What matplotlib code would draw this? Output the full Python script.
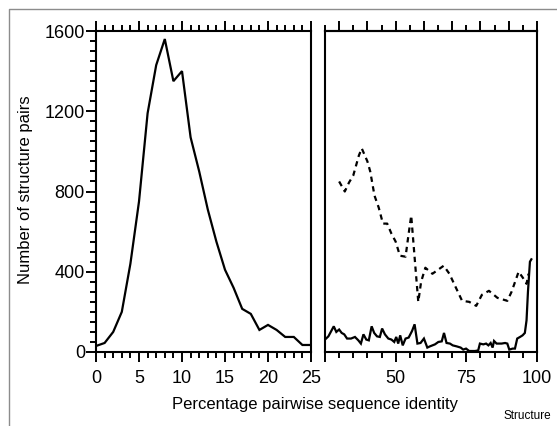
import matplotlib.pyplot as plt
from matplotlib.lines import Line2D
from matplotlib.ticker import MultipleLocator, FixedLocator, NullFormatter

plt.rcParams['font.family'] = ['Liberation Sans', 'DejaVu Sans']

# left panel: 0-25 % identity
low_x = [0, 1, 2, 3, 4, 5, 6, 7, 8, 9, 10, 11, 12, 13, 14, 15, 16, 17, 18, 19, 20,
         21, 22, 23, 24, 25]
low_y = [30, 45, 100, 200, 440, 750, 1190, 1430, 1560, 1350, 1400, 1070, 900, 710,
         550, 410, 320, 215, 190, 110, 135, 110, 75, 75, 35, 35]

# right panel, solid line
hi_x = [25, 26.2, 28.1, 29, 30, 30.9, 31.8, 32.8, 34.2, 35.6, 36.8, 37.7, 38.6, 39.6,
        40.5, 41.5, 42.4, 43.4, 44.4, 45.2, 46.2, 47.4, 48.5, 49.5, 50.2, 50.9, 51.6,
        52.5, 53.5, 54.6, 55.8, 56.7, 57.7, 58.8, 60, 61.2, 62.1, 63.9, 65.1, 66.3,
        67.1, 68, 69.2, 70.2, 71.6, 73, 73.9, 74.9, 76, 78.1, 79.2, 79.8, 81, 82,
        82.8, 83.6, 84.3, 84.8, 85.7, 86.7, 87.5, 88.7, 89.5, 90.2, 91.4, 92.2, 93,
        94, 94.9, 95.7, 96.3, 96.8, 97.5, 98]
hi_y = [62, 78, 128, 100, 112, 95, 88, 67, 67, 75, 58, 42, 88, 62,
        58, 128, 95, 78, 75, 117, 88, 67, 62, 50, 75, 42, 83,
        33, 67, 72, 105, 138, 42, 45, 67, 22, 28, 38, 50, 53,
        95, 45, 42, 33, 28, 22, 12, 17, 5, 5, 8, 42, 38, 42,
        33, 45, 22, 55, 42, 42, 42, 45, 42, 12, 17, 17, 67,
        75, 83, 95, 158, 300, 450, 462]

# right panel, dashed line
dash_x = [30, 32, 33.5, 35, 37, 38, 40, 41, 42.5, 44, 45.5, 47, 48.5, 50, 51.5, 53.5,
          54.5, 55.5, 57, 58, 59, 60.5, 63, 67, 69, 71, 73.5, 76, 78.5, 80.5, 83, 86,
          89.5, 91, 93.5, 95, 96.3, 97]
dash_y = [850, 800, 845, 880, 980, 1015, 950, 900, 780, 720, 640, 640, 590, 550, 480,
          475, 580, 680, 420, 250, 350, 420, 390, 430, 390, 330, 255, 250, 230, 285,
          305, 270, 255, 300, 400, 370, 340, 390]

W, H = 557, 426
fig = plt.figure(figsize=(W / 100, H / 100), dpi=100)

# grey frame around the figure (open at right and bottom)
fig.add_artist(Line2D([9 / W, 9 / W, 1], [0, 1 - 9 / H, 1 - 9 / H],
                      transform=fig.transFigure, color='#8c8c8c', lw=1))

bottom = 1 - 352 / H
height = (352 - 31) / H
ax1 = fig.add_axes([96 / W, bottom, 215 / W, height])
ax2 = fig.add_axes([325 / W, bottom, 212 / W, height])

lw = 1.5
maj = dict(which='major', direction='out', length=7, width=1.4)
mnr = dict(which='minor', direction='out', length=4, width=1.4)
for ax in (ax1, ax2):
    for sp in ax.spines.values():
        sp.set_linewidth(lw)
    ax.set_ylim(0, 1600)
    ax.tick_params(labelsize=13, pad=6, **maj)
    ax.tick_params(**mnr)

ax1.plot(low_x, low_y, color='black', lw=1.6, solid_joinstyle='miter')
ax1.set_xlim(0, 25)
ax1.xaxis.set_major_locator(MultipleLocator(5))
ax1.xaxis.set_minor_locator(MultipleLocator(1))
ax1.yaxis.set_major_locator(MultipleLocator(400))
ax1.yaxis.set_minor_locator(MultipleLocator(50))
ax1.tick_params(axis='x', which='both', top=True, labeltop=False)
ax1.tick_params(axis='y', which='major', pad=1)

ax2.plot(hi_x, hi_y, color='black', lw=1.6, solid_joinstyle='miter')
ax2.plot(dash_x, dash_y, color='black', lw=1.6, dashes=(2.4, 2.0))
ax2.set_xlim(25, 100)
ax2.xaxis.set_major_locator(FixedLocator([25, 50, 75, 100]))
ax2.set_xticklabels(['', '50', '75', '100'])
ax2.xaxis.set_minor_locator(MultipleLocator(5))
ax2.tick_params(axis='y', which='both', left=False, labelleft=False)

top = ax2.secondary_xaxis('top')
top.xaxis.set_major_locator(MultipleLocator(10))
top.xaxis.set_minor_locator(MultipleLocator(5))
top.xaxis.set_major_formatter(NullFormatter())
top.spines['top'].set_linewidth(lw)
top.tick_params(**maj)
top.tick_params(**mnr)

fig.text(315 / W, 1 - 404 / H, 'Percentage pairwise sequence identity',
         ha='center', va='center', fontsize=12)
fig.text(26 / W, 1 - 190 / H, 'Number of structure pairs', rotation=90,
         ha='center', va='center', fontsize=12)
fig.text(551 / W, 1 - 416 / H, 'Structure', ha='right', va='center', fontsize=8.5)

fig.savefig('out.png', dpi=100)
